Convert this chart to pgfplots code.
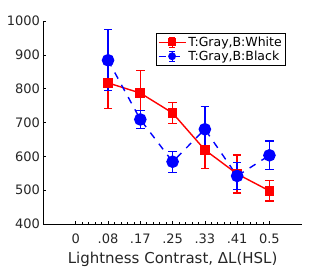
\documentclass[border=0pt]{standalone}
\usepackage{pgfplots}
\pgfplotsset{compat=1.18}
\usepackage{fontspec}
\setmainfont{DejaVu Sans}
\begin{document}
\begin{tikzpicture}
\begin{axis}[
  at={(0pt,0pt)}, anchor=south west,
  scale only axis, width=258.2pt, height=203pt,
  xmin=-1, xmax=7, ymin=400, ymax=1000,
  axis x line*=bottom, axis y line*=left,
  axis line style={black, line width=0.6pt, -},
  xtick={0,1,2,3,4,5,6},
  xticklabels={0,.08,.17,.25,.33,.41,0.5},
  minor x tick num=4,
  ytick={400,500,...,1000},
  tick align=inside,
  major tick length=3pt, minor tick length=1.8pt,
  tick style={black, line width=0.6pt},
  /pgf/number format/assume math mode=true,
  /pgf/number format/1000 sep={},
  ticklabel style={font=\fontsize{13}{15}\selectfont, text=black!85},
  xticklabel style={yshift=-6pt},
  xlabel={Lightness Contrast, ΔL(HSL)},
  xlabel style={font=\fontsize{15}{17}\selectfont, text=black!85, yshift=-2pt},
  legend style={at={(0.436,0.941)}, anchor=north west, font=\fontsize{12.5}{14}\selectfont,
     draw=black, line width=0.6pt, inner sep=1.5pt, row sep=-1pt, text=black},
  legend cell align=left,
  legend image code/.code={
    \draw[#1] (0cm,0cm) -- (0.95cm,0cm);
    \draw[#1, solid, line width=1.1pt] (0.475cm,-0.17cm) -- (0.475cm,0.17cm);
    \draw[#1, solid, line width=1.1pt] (0.37cm,-0.17cm) -- (0.58cm,-0.17cm);
    \draw[#1, solid, line width=1.1pt] (0.37cm,0.17cm) -- (0.58cm,0.17cm);
    \draw[#1, only marks, mark size=3.2pt] plot coordinates {(0.475cm,0cm)};
  },
  error bars/y dir=both, error bars/y explicit,
  error bars/error bar style={line width=1.3pt, solid},
  error bars/error mark options={rotate=90, mark size=4.2pt, line width=1.3pt},
  clip=false,
]
\addplot[red, line width=1.4pt, mark=square*, mark size=4.2pt, mark options={solid},
  error bars/error bar style={red, line width=1.3pt, solid}]
  coordinates {
  (1,817) +- (0,75)
  (2,787) +- (0,67)
  (3,728) +- (0,31)
  (4,619) +- (0,56)
  (5,548) +- (0,56)
  (6,498) +- (0,30)
  };
\addlegendentry{T:Gray,B:White}
\addplot[blue, line width=1.4pt, dash pattern=on 7pt off 7pt, mark=*, mark size=5.6pt, mark options={solid},
  error bars/error bar style={blue, line width=1.3pt, solid}]
  coordinates {
  (1,884) +- (0,90)
  (2,709) +- (0,26)
  (3,584) +- (0,31)
  (4,680) +- (0,68)
  (5,542) +- (0,39)
  (6,603) +- (0,42)
  };
\addlegendentry{T:Gray,B:Black}
\end{axis}
\pgfresetboundingbox
\path (-43.5pt,-43pt) rectangle (290.5pt,224pt);
\end{tikzpicture}
\end{document}
